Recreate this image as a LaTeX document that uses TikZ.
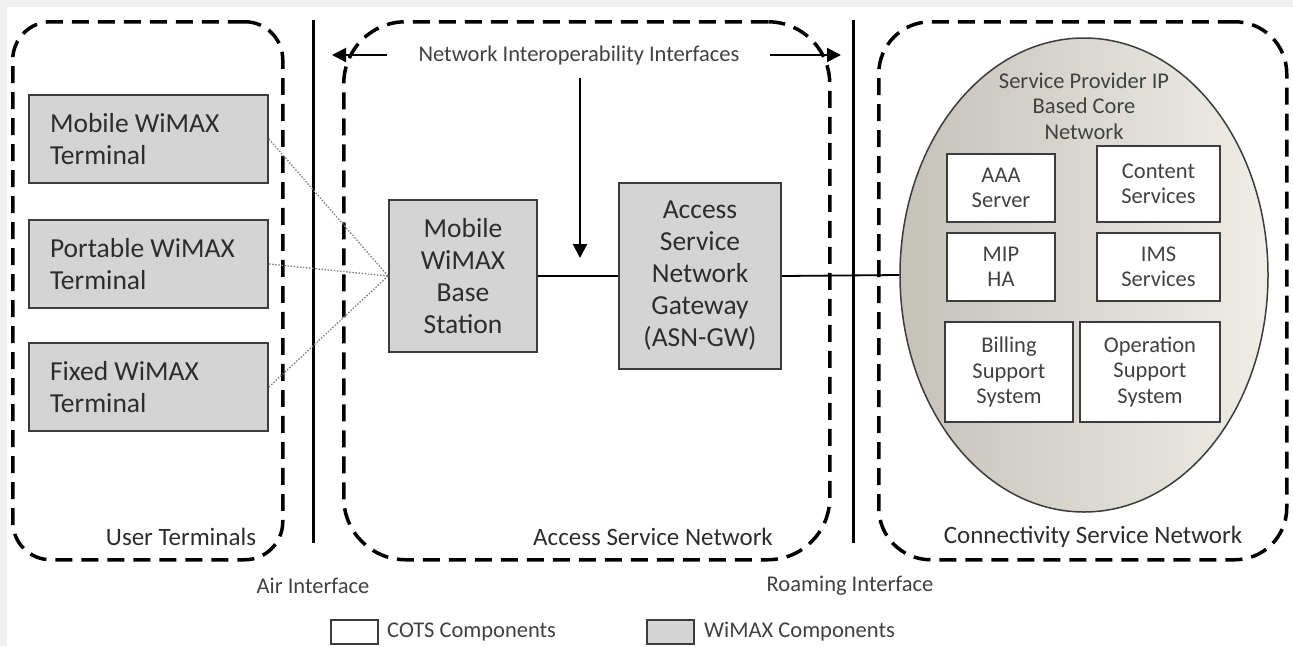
\documentclass[tikz,border=0pt]{standalone}
\usepackage{fontspec}
\setmainfont{Carlito}
\usetikzlibrary{arrows.meta,shapes.geometric}

\definecolor{ink}{RGB}{45,45,45}
\definecolor{softink}{RGB}{65,65,65}
\definecolor{wimaxfill}{RGB}{212,212,212}
\definecolor{boxedge}{RGB}{60,60,60}
\definecolor{eggdark}{RGB}{196,194,185}
\definecolor{egglight}{RGB}{238,237,232}
\definecolor{margin}{RGB}{240,240,240}

\newcommand\fsBig{\fontsize{27.5}{32}\selectfont}
\newcommand\fsRegion{\fontsize{25}{28}\selectfont}
\newcommand\fsSmall{\fontsize{22.5}{25.5}\selectfont}

\begin{document}
\begin{tikzpicture}[x=1pt,y=-1pt,
  region/.style={draw=black, line width=3.5pt, dash pattern=on 17pt off 9pt,
    minimum height=538pt, anchor=north west, inner sep=0pt},
  regionlabel/.style={font=\fsRegion, text=ink, inner sep=0pt},
  wimax/.style={draw=boxedge, fill=wimaxfill, line width=2pt, text=ink, inner sep=0pt},
  cots/.style={draw=boxedge, fill=white, line width=2pt, text=softink,
    font=\fsSmall, align=center, inner sep=0pt},
  terminal/.style={wimax, anchor=north west, minimum width=239pt, minimum height=88pt,
    text width=197pt, inner xsep=21pt, align=flush left, font=\fsBig},
  divider/.style={line width=3pt, draw=black},
  pointer/.style={line width=2pt, draw=black, -{Triangle[length=14pt,width=14pt]}},
  radio/.style={draw=gray, line width=1.3pt, dash pattern=on 1.5pt off 1.6pt},
  wire/.style={draw=black, line width=1.8pt},
  smalltext/.style={font=\fsSmall, text=softink, inner sep=0pt}
]
\useasboundingbox (0,0) rectangle (1293,646);
\fill[margin] (0,0) rectangle (1293,646);
\fill[white] (7,7) rectangle (1293,646);

% network domains
\node[region, rounded corners=38pt, minimum width=270pt] (ut) at (11,20) {};
\node[region, rounded corners=62pt, minimum width=486pt] (asn) at (342,20) {};
\node[region, rounded corners=52pt, minimum width=408pt] (csn) at (877,20) {};
\node[regionlabel] (utl) at (181,537) {User Terminals};
\node[regionlabel] (asnl) at (653,537) {Access Service Network};
\node[regionlabel] (csnl) at (1093,537) {Connectivity Service Network};

% interface dividers
\coordinate (d1top) at (313,20);
\coordinate (d1bot) at (313,543);
\coordinate (d2top) at (853,20);
\coordinate (d2bot) at (853,543);
\draw[divider] (d1top) -- (d1bot);
\draw[divider] (d2top) -- (d2bot);
\node[smalltext] (air) at (313,586) {Air Interface};
\node[smalltext] (roam) at (850,586) {Roaming Interface};

% user terminals
\node[terminal] (mob) at (28,94) {Mobile WiMAX\\Terminal};
\node[terminal] (port) at (28,219) {Portable WiMAX\\Terminal};
\node[terminal] (fix) at (28,342) {Fixed WiMAX\\Terminal};

% access service network
\node[wimax, minimum width=148pt, minimum height=152pt, font=\fsBig, align=center]
  (bs) at (463,276) {Mobile\\WiMAX\\Base\\Station};
\node[wimax, minimum width=162pt, minimum height=186pt, font=\fsBig, align=center]
  (gw) at (700,276) {Access\\Service\\Network\\Gateway\\(ASN-GW)};

% core network
\node[ellipse, draw=boxedge, line width=1.5pt, left color=eggdark, right color=egglight,
  minimum width=368pt, minimum height=474pt, inner sep=0pt] (core) at (1084,275) {};
\node[smalltext, align=center] (coret) at (1084,106) {Service Provider IP\\Based Core\\Network};
\node[cots, minimum width=108pt, minimum height=68pt] (aaa) at (1001,188) {AAA\\Server};
\node[cots, minimum width=123pt, minimum height=76pt] (cont) at (1158.5,184) {Content\\Services};
\node[cots, minimum width=108pt, minimum height=68pt] (mip) at (1001,267) {MIP\\HA};
\node[cots, minimum width=123pt, minimum height=68pt] (ims) at (1158.5,267) {IMS\\Services};
\node[cots, minimum width=128pt, minimum height=100pt] (bill) at (1009,372) {Billing\\Support\\System};
\node[cots, minimum width=140pt, minimum height=100pt] (oss) at (1150,372) {Operation\\Support\\System};

% radio links
\draw[radio] (mob.east) -- (bs.west);
\draw[radio] (port.east) -- (bs.west);
\draw[radio] (fix.east) -- (bs.west);

% wired links
\draw[wire] (bs.east) -- (gw.west);
\draw[wire] (gw.east) -- (core.west);

% interoperability interfaces
\node[smalltext] (nii) at (579,55) {Network Interoperability Interfaces};
\coordinate (leftend) at (332,55);
\coordinate (rightend) at (841,55);
\coordinate (downend) at (580,258);
\draw[pointer] ([xshift=-31pt]nii.west) -- (leftend);
\draw[pointer] ([xshift=30pt]nii.east) -- (rightend);
\draw[pointer] (580,78) -- (downend);

% legend
\node[cots, minimum width=47pt, minimum height=24pt, anchor=north west] (lgc) at (330,619) {};
\node[smalltext, anchor=west] (lgct) at ([xshift=8pt]lgc.east) {COTS Components};
\node[wimax, minimum width=47pt, minimum height=24pt, anchor=north west] (lgw) at (646,619) {};
\node[smalltext, anchor=west] (lgwt) at ([xshift=9pt]lgw.east) {WiMAX Components};
\end{tikzpicture}
\end{document}
